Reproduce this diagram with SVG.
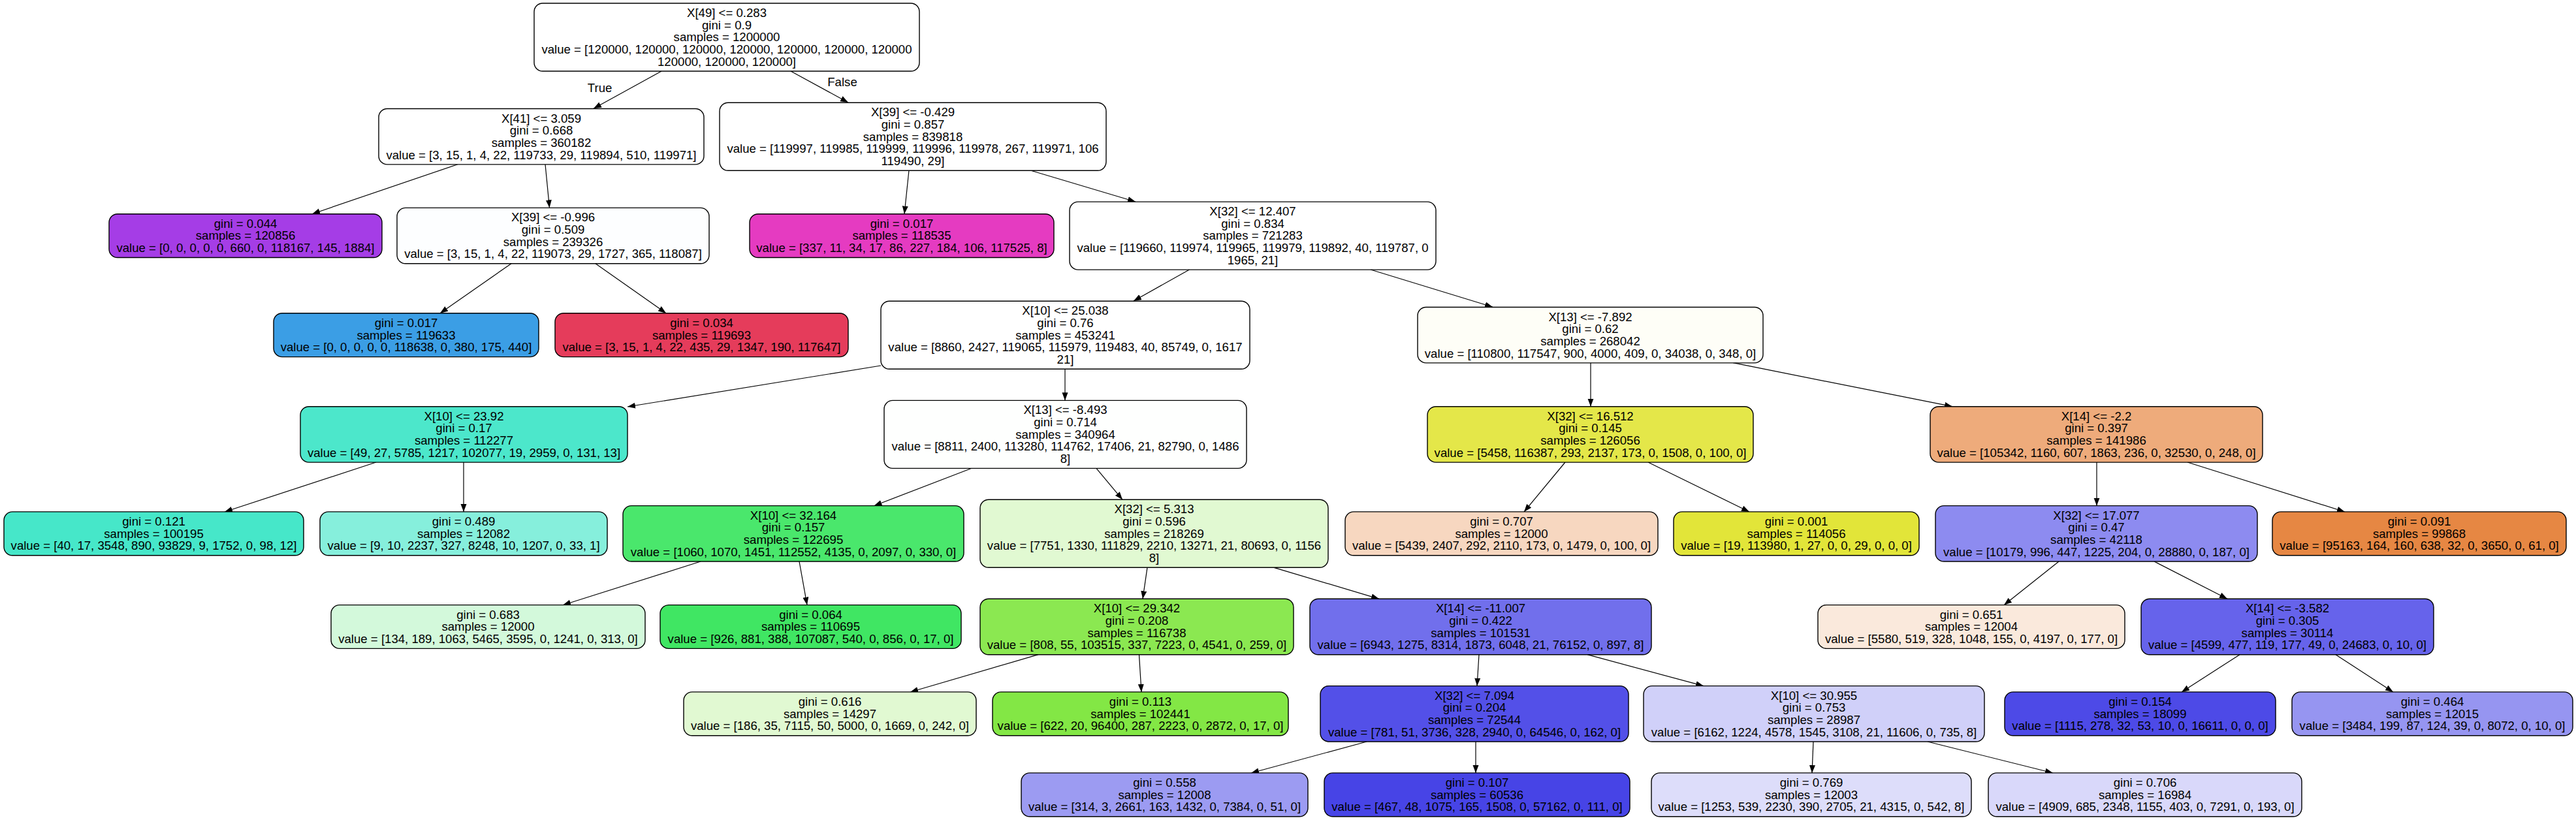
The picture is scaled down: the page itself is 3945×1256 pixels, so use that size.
<svg xmlns="http://www.w3.org/2000/svg" width="3945" height="1256" viewBox="0 0 3945 1256">
<style>
.n rect { stroke:#000; stroke-width:1.4; }
text { font-family:"Liberation Sans", Arial, Helvetica, sans-serif; font-size:18.6px; fill:#000; text-anchor:middle; }
.e path { stroke:#000; stroke-width:1.2; fill:none; marker-end:url(#ah); }
</style>
<defs>
<marker id="ah" markerUnits="userSpaceOnUse" markerWidth="13" markerHeight="10" refX="12" refY="4.5" orient="auto"><path d="M0,0 L12,4.5 L0,9 Z" fill="#000"/></marker>
</defs>
<rect width="3945" height="1256" fill="#fff"/>
<g id="edges" class="e">
<path d="M1013,109 L909,166.3"/>
<path d="M1211,109 L1299,157"/>
<path d="M701,251.7 L478,327.7"/>
<path d="M835,251.7 L841.5,318.3"/>
<path d="M1392,261 L1385,327.7"/>
<path d="M1578,261 L1739,309"/>
<path d="M783,403.7 L674,479.7"/>
<path d="M912,403.7 L1020,479.7"/>
<path d="M1821.5,413 L1736,461"/>
<path d="M2099,413 L2286,470.3"/>
<path d="M1349,560 L961,623"/>
<path d="M1631,565 L1631,613.3"/>
<path d="M2436,555.7 L2436,622.7"/>
<path d="M2654,555.7 L2990,622.7"/>
<path d="M576,708 L344,784"/>
<path d="M710,708 L710,784"/>
<path d="M1488,717.3 L1338.5,774.7"/>
<path d="M1679,717.3 L1719,765.3"/>
<path d="M2397,708 L2334,784"/>
<path d="M2524,708 L2679,784"/>
<path d="M3211,708 L3211,774.7"/>
<path d="M3350,708 L3591,784"/>
<path d="M1073,860 L862,926.7"/>
<path d="M1224,860 L1236,926.7"/>
<path d="M1757,869.3 L1750,917.3"/>
<path d="M1951,869.3 L2112,917.3"/>
<path d="M3153,860 L3069,926.7"/>
<path d="M3299,860 L3411,917.3"/>
<path d="M1590,1002.7 L1394,1060"/>
<path d="M1744.5,1002.7 L1748,1060"/>
<path d="M2265,1002.7 L2262,1050.7"/>
<path d="M2431,1002.7 L2609,1050.7"/>
<path d="M3430,1002.7 L3341,1060"/>
<path d="M3577,1002.7 L3665,1060"/>
<path d="M2093,1136 L1916,1184"/>
<path d="M2260,1136 L2260,1184"/>
<path d="M2777,1136 L2775,1184"/>
<path d="M2952,1136 L3144,1184"/>
<text x="918.6" y="141">True</text>
<text x="1290" y="132">False</text>
</g>
<g id="n0" class="n"><rect x="818" y="5" width="590" height="104" rx="13" fill="#ffffff"/><text><tspan x="1113" y="26">X[49] &lt;= 0.283</tspan><tspan x="1113" y="44.6">gini = 0.9</tspan><tspan x="1113" y="63.3">samples = 1200000</tspan><tspan x="1113" y="82">value = [120000, 120000, 120000, 120000, 120000, 120000, 120000</tspan><tspan x="1113" y="100.6">120000, 120000, 120000]</tspan></text></g>
<g id="n1" class="n"><rect x="580" y="166.5" width="498" height="85.4" rx="13" fill="#ffffff"/><text><tspan x="829" y="187.5">X[41] &lt;= 3.059</tspan><tspan x="829" y="206.2">gini = 0.668</tspan><tspan x="829" y="224.8">samples = 360182</tspan><tspan x="829" y="243.5">value = [3, 15, 1, 4, 22, 119733, 29, 119894, 510, 119971]</tspan></text></g>
<g id="n2" class="n"><rect x="1102" y="157.2" width="592" height="104" rx="13" fill="#ffffff"/><text><tspan x="1398" y="178.2">X[39] &lt;= -0.429</tspan><tspan x="1398" y="196.8">gini = 0.857</tspan><tspan x="1398" y="215.5">samples = 839818</tspan><tspan x="1398" y="234.2">value = [119997, 119985, 119999, 119996, 119978, 267, 119971, 106</tspan><tspan x="1398" y="252.8">119490, 29]</tspan></text></g>
<g id="n3" class="n"><rect x="167" y="327.7" width="418" height="66.8" rx="13" fill="#a53de6"/><text><tspan x="376" y="348.7">gini = 0.044</tspan><tspan x="376" y="367.4">samples = 120856</tspan><tspan x="376" y="386.1">value = [0, 0, 0, 0, 0, 660, 0, 118167, 145, 1884]</tspan></text></g>
<g id="n4" class="n"><rect x="608" y="318.4" width="478" height="85.4" rx="13" fill="#fdfeff"/><text><tspan x="847" y="339.4">X[39] &lt;= -0.996</tspan><tspan x="847" y="358.1">gini = 0.509</tspan><tspan x="847" y="376.7">samples = 239326</tspan><tspan x="847" y="395.4">value = [3, 15, 1, 4, 22, 119073, 29, 1727, 365, 118087]</tspan></text></g>
<g id="n7" class="n"><rect x="1148" y="327.7" width="466" height="66.8" rx="13" fill="#e53bc1"/><text><tspan x="1381" y="348.7">gini = 0.017</tspan><tspan x="1381" y="367.4">samples = 118535</tspan><tspan x="1381" y="386.1">value = [337, 11, 34, 17, 86, 227, 184, 106, 117525, 8]</tspan></text></g>
<g id="n8" class="n"><rect x="1638" y="309.1" width="561" height="104" rx="13" fill="#ffffff"/><text><tspan x="1918.5" y="330.1">X[32] &lt;= 12.407</tspan><tspan x="1918.5" y="348.7">gini = 0.834</tspan><tspan x="1918.5" y="367.4">samples = 721283</tspan><tspan x="1918.5" y="386.1">value = [119660, 119974, 119965, 119979, 119892, 40, 119787, 0</tspan><tspan x="1918.5" y="404.7">1965, 21]</tspan></text></g>
<g id="n5" class="n"><rect x="419" y="479.8" width="406" height="66.8" rx="13" fill="#3b9ee5"/><text><tspan x="622" y="500.8">gini = 0.017</tspan><tspan x="622" y="519.5">samples = 119633</tspan><tspan x="622" y="538.2">value = [0, 0, 0, 0, 0, 118638, 0, 380, 175, 440]</tspan></text></g>
<g id="n6" class="n"><rect x="850" y="479.8" width="449" height="66.8" rx="13" fill="#e53c5b"/><text><tspan x="1074.5" y="500.8">gini = 0.034</tspan><tspan x="1074.5" y="519.5">samples = 119693</tspan><tspan x="1074.5" y="538.2">value = [3, 15, 1, 4, 22, 435, 29, 1347, 190, 117647]</tspan></text></g>
<g id="n9" class="n"><rect x="1349" y="461.2" width="565" height="104" rx="13" fill="#ffffff"/><text><tspan x="1631.5" y="482.2">X[10] &lt;= 25.038</tspan><tspan x="1631.5" y="500.8">gini = 0.76</tspan><tspan x="1631.5" y="519.5">samples = 453241</tspan><tspan x="1631.5" y="538.2">value = [8860, 2427, 119065, 115979, 119483, 40, 85749, 0, 1617</tspan><tspan x="1631.5" y="556.8">21]</tspan></text></g>
<g id="n28" class="n"><rect x="2171" y="470.5" width="529" height="85.4" rx="13" fill="#fefef7"/><text><tspan x="2435.5" y="491.5">X[13] &lt;= -7.892</tspan><tspan x="2435.5" y="510.2">gini = 0.62</tspan><tspan x="2435.5" y="528.8">samples = 268042</tspan><tspan x="2435.5" y="547.5">value = [110800, 117547, 900, 4000, 409, 0, 34038, 0, 348, 0]</tspan></text></g>
<g id="n10" class="n"><rect x="460" y="622.7" width="501" height="85.4" rx="13" fill="#4ce7cb"/><text><tspan x="710.5" y="643.7">X[10] &lt;= 23.92</tspan><tspan x="710.5" y="662.4">gini = 0.17</tspan><tspan x="710.5" y="681">samples = 112277</tspan><tspan x="710.5" y="699.7">value = [49, 27, 5785, 1217, 102077, 19, 2959, 0, 131, 13]</tspan></text></g>
<g id="n13" class="n"><rect x="1354" y="613.4" width="555" height="104" rx="13" fill="#fefffe"/><text><tspan x="1631.5" y="634.4">X[13] &lt;= -8.493</tspan><tspan x="1631.5" y="653">gini = 0.714</tspan><tspan x="1631.5" y="671.7">samples = 340964</tspan><tspan x="1631.5" y="690.4">value = [8811, 2400, 113280, 114762, 17406, 21, 82790, 0, 1486</tspan><tspan x="1631.5" y="709">8]</tspan></text></g>
<g id="n29" class="n"><rect x="2186" y="622.7" width="499" height="85.4" rx="13" fill="#e4e749"/><text><tspan x="2435.5" y="643.7">X[32] &lt;= 16.512</tspan><tspan x="2435.5" y="662.4">gini = 0.145</tspan><tspan x="2435.5" y="681">samples = 126056</tspan><tspan x="2435.5" y="699.7">value = [5458, 116387, 293, 2137, 173, 0, 1508, 0, 100, 0]</tspan></text></g>
<g id="n32" class="n"><rect x="2956" y="622.7" width="509" height="85.4" rx="13" fill="#eeab7b"/><text><tspan x="3210.5" y="643.7">X[14] &lt;= -2.2</tspan><tspan x="3210.5" y="662.4">gini = 0.397</tspan><tspan x="3210.5" y="681">samples = 141986</tspan><tspan x="3210.5" y="699.7">value = [105342, 1160, 607, 1863, 236, 0, 32530, 0, 248, 0]</tspan></text></g>
<g id="n11" class="n"><rect x="6" y="783.9" width="459" height="66.8" rx="13" fill="#46e7c9"/><text><tspan x="235.5" y="804.9">gini = 0.121</tspan><tspan x="235.5" y="823.6">samples = 100195</tspan><tspan x="235.5" y="842.3">value = [40, 17, 3548, 890, 93829, 9, 1752, 0, 98, 12]</tspan></text></g>
<g id="n12" class="n"><rect x="490" y="783.9" width="440" height="66.8" rx="13" fill="#86efdc"/><text><tspan x="710" y="804.9">gini = 0.489</tspan><tspan x="710" y="823.6">samples = 12082</tspan><tspan x="710" y="842.3">value = [9, 10, 2237, 327, 8248, 10, 1207, 0, 33, 1]</tspan></text></g>
<g id="n14" class="n"><rect x="954" y="774.6" width="522" height="85.4" rx="13" fill="#4ae76c"/><text><tspan x="1215" y="795.6">X[10] &lt;= 32.164</tspan><tspan x="1215" y="814.3">gini = 0.157</tspan><tspan x="1215" y="832.9">samples = 122695</tspan><tspan x="1215" y="851.6">value = [1060, 1070, 1451, 112552, 4135, 0, 2097, 0, 330, 0]</tspan></text></g>
<g id="n17" class="n"><rect x="1501" y="765.3" width="533" height="104" rx="13" fill="#e1f9d2"/><text><tspan x="1767.5" y="786.3">X[32] &lt;= 5.313</tspan><tspan x="1767.5" y="804.9">gini = 0.596</tspan><tspan x="1767.5" y="823.6">samples = 218269</tspan><tspan x="1767.5" y="842.3">value = [7751, 1330, 111829, 2210, 13271, 21, 80693, 0, 1156</tspan><tspan x="1767.5" y="860.9">8]</tspan></text></g>
<g id="n30" class="n"><rect x="2060" y="783.9" width="479" height="66.8" rx="13" fill="#f7d7c0"/><text><tspan x="2299.5" y="804.9">gini = 0.707</tspan><tspan x="2299.5" y="823.6">samples = 12000</tspan><tspan x="2299.5" y="842.3">value = [5439, 2407, 292, 2110, 173, 0, 1479, 0, 100, 0]</tspan></text></g>
<g id="n31" class="n"><rect x="2563" y="783.9" width="376" height="66.8" rx="13" fill="#e2e539"/><text><tspan x="2751" y="804.9">gini = 0.001</tspan><tspan x="2751" y="823.6">samples = 114056</tspan><tspan x="2751" y="842.3">value = [19, 113980, 1, 27, 0, 0, 29, 0, 0, 0]</tspan></text></g>
<g id="n33" class="n"><rect x="2964" y="774.6" width="493" height="85.4" rx="13" fill="#8d8bf0"/><text><tspan x="3210.5" y="795.6">X[32] &lt;= 17.077</tspan><tspan x="3210.5" y="814.3">gini = 0.47</tspan><tspan x="3210.5" y="832.9">samples = 42118</tspan><tspan x="3210.5" y="851.6">value = [10179, 996, 447, 1225, 204, 0, 28880, 0, 187, 0]</tspan></text></g>
<g id="n38" class="n"><rect x="3480" y="783.9" width="450" height="66.8" rx="13" fill="#e68743"/><text><tspan x="3705" y="804.9">gini = 0.091</tspan><tspan x="3705" y="823.6">samples = 99868</tspan><tspan x="3705" y="842.3">value = [95163, 164, 160, 638, 32, 0, 3650, 0, 61, 0]</tspan></text></g>
<g id="n15" class="n"><rect x="507" y="926.6" width="481" height="66.8" rx="13" fill="#d3f9db"/><text><tspan x="747.5" y="947.6">gini = 0.683</tspan><tspan x="747.5" y="966.3">samples = 12000</tspan><tspan x="747.5" y="985">value = [134, 189, 1063, 5465, 3595, 0, 1241, 0, 313, 0]</tspan></text></g>
<g id="n16" class="n"><rect x="1011" y="926.6" width="461" height="66.8" rx="13" fill="#40e663"/><text><tspan x="1241.5" y="947.6">gini = 0.064</tspan><tspan x="1241.5" y="966.3">samples = 110695</tspan><tspan x="1241.5" y="985">value = [926, 881, 388, 107087, 540, 0, 856, 0, 17, 0]</tspan></text></g>
<g id="n18" class="n"><rect x="1501" y="917.3" width="480" height="85.4" rx="13" fill="#8be851"/><text><tspan x="1741" y="938.3">X[10] &lt;= 29.342</tspan><tspan x="1741" y="957">gini = 0.208</tspan><tspan x="1741" y="975.6">samples = 116738</tspan><tspan x="1741" y="994.3">value = [808, 55, 103515, 337, 7223, 0, 4541, 0, 259, 0]</tspan></text></g>
<g id="n21" class="n"><rect x="2006" y="917.3" width="523" height="85.4" rx="13" fill="#716fec"/><text><tspan x="2267.5" y="938.3">X[14] &lt;= -11.007</tspan><tspan x="2267.5" y="957">gini = 0.422</tspan><tspan x="2267.5" y="975.6">samples = 101531</tspan><tspan x="2267.5" y="994.3">value = [6943, 1275, 8314, 1873, 6048, 21, 76152, 0, 897, 8]</tspan></text></g>
<g id="n34" class="n"><rect x="2784" y="926.6" width="470" height="66.8" rx="13" fill="#fae9dc"/><text><tspan x="3019" y="947.6">gini = 0.651</tspan><tspan x="3019" y="966.3">samples = 12004</tspan><tspan x="3019" y="985">value = [5580, 519, 328, 1048, 155, 0, 4197, 0, 177, 0]</tspan></text></g>
<g id="n35" class="n"><rect x="3279" y="917.3" width="448" height="85.4" rx="13" fill="#6663eb"/><text><tspan x="3503" y="938.3">X[14] &lt;= -3.582</tspan><tspan x="3503" y="957">gini = 0.305</tspan><tspan x="3503" y="975.6">samples = 30114</tspan><tspan x="3503" y="994.3">value = [4599, 477, 119, 177, 49, 0, 24683, 0, 10, 0]</tspan></text></g>
<g id="n19" class="n"><rect x="1047" y="1059.9" width="448" height="66.8" rx="13" fill="#e1f9d2"/><text><tspan x="1271" y="1080.9">gini = 0.616</tspan><tspan x="1271" y="1099.6">samples = 14297</tspan><tspan x="1271" y="1118.3">value = [186, 35, 7115, 50, 5000, 0, 1669, 0, 242, 0]</tspan></text></g>
<g id="n20" class="n"><rect x="1520" y="1059.9" width="453" height="66.8" rx="13" fill="#83e745"/><text><tspan x="1746.5" y="1080.9">gini = 0.113</tspan><tspan x="1746.5" y="1099.6">samples = 102441</tspan><tspan x="1746.5" y="1118.3">value = [622, 20, 96400, 287, 2223, 0, 2872, 0, 17, 0]</tspan></text></g>
<g id="n22" class="n"><rect x="2022" y="1050.6" width="472" height="85.4" rx="13" fill="#5350e8"/><text><tspan x="2258" y="1071.6">X[32] &lt;= 7.094</tspan><tspan x="2258" y="1090.3">gini = 0.204</tspan><tspan x="2258" y="1108.9">samples = 72544</tspan><tspan x="2258" y="1127.6">value = [781, 51, 3736, 328, 2940, 0, 64546, 0, 162, 0]</tspan></text></g>
<g id="n25" class="n"><rect x="2517" y="1050.6" width="522" height="85.4" rx="13" fill="#d0d0f9"/><text><tspan x="2778" y="1071.6">X[10] &lt;= 30.955</tspan><tspan x="2778" y="1090.3">gini = 0.753</tspan><tspan x="2778" y="1108.9">samples = 28987</tspan><tspan x="2778" y="1127.6">value = [6162, 1224, 4578, 1545, 3108, 21, 11606, 0, 735, 8]</tspan></text></g>
<g id="n36" class="n"><rect x="3070" y="1059.9" width="415" height="66.8" rx="13" fill="#4d4ae7"/><text><tspan x="3277.5" y="1080.9">gini = 0.154</tspan><tspan x="3277.5" y="1099.6">samples = 18099</tspan><tspan x="3277.5" y="1118.3">value = [1115, 278, 32, 53, 10, 0, 16611, 0, 0, 0]</tspan></text></g>
<g id="n37" class="n"><rect x="3510" y="1059.9" width="430" height="66.8" rx="13" fill="#9695f1"/><text><tspan x="3725" y="1080.9">gini = 0.464</tspan><tspan x="3725" y="1099.6">samples = 12015</tspan><tspan x="3725" y="1118.3">value = [3484, 199, 87, 124, 39, 0, 8072, 0, 10, 0]</tspan></text></g>
<g id="n23" class="n"><rect x="1564" y="1183.9" width="439" height="66.8" rx="13" fill="#9c9bf2"/><text><tspan x="1783.5" y="1204.9">gini = 0.558</tspan><tspan x="1783.5" y="1223.6">samples = 12008</tspan><tspan x="1783.5" y="1242.3">value = [314, 3, 2661, 163, 1432, 0, 7384, 0, 51, 0]</tspan></text></g>
<g id="n24" class="n"><rect x="2028" y="1183.9" width="468" height="66.8" rx="13" fill="#4744e6"/><text><tspan x="2262" y="1204.9">gini = 0.107</tspan><tspan x="2262" y="1223.6">samples = 60536</tspan><tspan x="2262" y="1242.3">value = [467, 48, 1075, 165, 1508, 0, 57162, 0, 111, 0]</tspan></text></g>
<g id="n26" class="n"><rect x="2529" y="1183.9" width="490" height="66.8" rx="13" fill="#ddddfa"/><text><tspan x="2774" y="1204.9">gini = 0.769</tspan><tspan x="2774" y="1223.6">samples = 12003</tspan><tspan x="2774" y="1242.3">value = [1253, 539, 2230, 390, 2705, 21, 4315, 0, 542, 8]</tspan></text></g>
<g id="n27" class="n"><rect x="3045" y="1183.9" width="480" height="66.8" rx="13" fill="#d9d8fa"/><text><tspan x="3285" y="1204.9">gini = 0.706</tspan><tspan x="3285" y="1223.6">samples = 16984</tspan><tspan x="3285" y="1242.3">value = [4909, 685, 2348, 1155, 403, 0, 7291, 0, 193, 0]</tspan></text></g>
</svg>
